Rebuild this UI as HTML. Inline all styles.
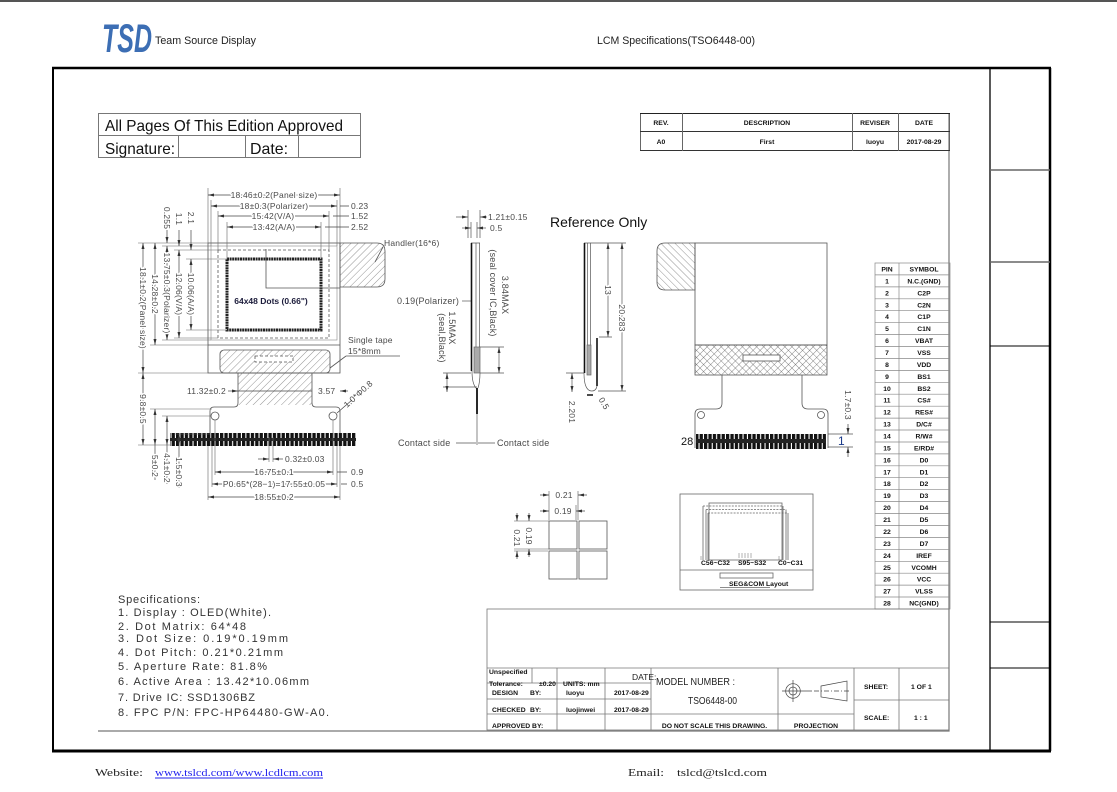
<!DOCTYPE html>
<html><head><meta charset="utf-8"><style>
html,body{margin:0;padding:0;background:#fff;}
svg{display:block}
.d{font-family:"Liberation Sans",sans-serif;font-size:8.5px;fill:#4a4a4a;letter-spacing:0.2px}
.k{paint-order:stroke;stroke:#fff;stroke-width:3px;stroke-linejoin:round}
.t{font-family:"Liberation Sans",sans-serif;font-weight:bold;font-size:6.8px;fill:#111}
.s{font-family:"Liberation Sans",sans-serif;font-size:11px;fill:#333}
</style></head><body>
<svg width="1117" height="792" viewBox="0 0 1117 792" xmlns="http://www.w3.org/2000/svg">
<defs>
<marker id="a" viewBox="0 0 10 10" refX="10" refY="5" markerWidth="6" markerHeight="6" markerUnits="userSpaceOnUse" orient="auto-start-reverse"><path d="M0,2.5L10,5L0,7.5z" fill="#333"/></marker>
<pattern id="h1" width="5" height="5" patternUnits="userSpaceOnUse" patternTransform="rotate(45)"><line x1="0" y1="0" x2="0" y2="5" stroke="#666" stroke-width="0.7"/></pattern>
<pattern id="h2" width="5" height="5" patternUnits="userSpaceOnUse" patternTransform="rotate(-45)"><line x1="0" y1="0" x2="0" y2="5" stroke="#666" stroke-width="0.7"/></pattern>
<pattern id="hx" width="5" height="5" patternUnits="userSpaceOnUse" patternTransform="rotate(45)"><line x1="0" y1="0" x2="0" y2="5" stroke="#555" stroke-width="0.7"/><line x1="0" y1="0" x2="5" y2="0" stroke="#555" stroke-width="0.7"/></pattern>
<pattern id="pins" width="4.4" height="20" patternUnits="userSpaceOnUse"><rect width="3.3" height="20" fill="#111"/></pattern>
</defs>

<!-- top line -->
<rect x="0" y="0" width="1117" height="2" fill="#555"/>

<!-- header -->
<text x="102" y="52" font-family="Liberation Sans, sans-serif" font-size="40" font-weight="bold" font-style="italic" fill="#3c6eb4" textLength="50" lengthAdjust="spacingAndGlyphs">TSD</text>
<text x="155" y="44" font-family="Liberation Sans, sans-serif" font-size="11" fill="#222" textLength="101" lengthAdjust="spacingAndGlyphs">Team Source Display</text>
<text x="597" y="44" font-family="Liberation Sans, sans-serif" font-size="11" fill="#222" textLength="158" lengthAdjust="spacingAndGlyphs">LCM Specifications(TSO6448-00)</text>

<!-- frame -->
<g stroke="#000" fill="none">
<line x1="52" y1="68" x2="1051" y2="68" stroke-width="2.5"/>
<line x1="53" y1="68" x2="53" y2="751" stroke-width="2"/>
<line x1="1050" y1="68" x2="1050" y2="751" stroke-width="2.5"/>
<line x1="52" y1="751" x2="1051" y2="751" stroke-width="3"/>
<line x1="990" y1="68" x2="990" y2="751" stroke-width="1.3"/>
<line x1="990" y1="170" x2="1050" y2="170" stroke="#666" stroke-width="1.5"/>
<line x1="990" y1="262" x2="1050" y2="262" stroke="#666" stroke-width="1.5"/>
<line x1="990" y1="346" x2="1050" y2="346" stroke-width="1"/>
<line x1="990" y1="622" x2="1050" y2="622" stroke-width="1"/>
<line x1="990" y1="668" x2="1050" y2="668" stroke-width="1"/>
</g>
<path d="M949,113V731H98" stroke="#777" stroke-width="1.2" fill="none"/>

<!-- approval box -->
<g stroke="#777" fill="none">
<rect x="98.5" y="113.5" width="262" height="44"/>
<line x1="98" y1="135.5" x2="360" y2="135.5"/>
<line x1="178.5" y1="135" x2="178.5" y2="157"/>
<line x1="245.5" y1="135" x2="245.5" y2="157"/>
<line x1="298.5" y1="135" x2="298.5" y2="157"/>
</g>
<text x="105" y="131" font-family="Liberation Sans, sans-serif" font-size="16" fill="#111" textLength="238" lengthAdjust="spacingAndGlyphs">All Pages Of This Edition Approved</text>
<text x="105" y="154" font-family="Liberation Sans, sans-serif" font-size="16" fill="#111" textLength="70" lengthAdjust="spacingAndGlyphs">Signature:</text>
<text x="250" y="154" font-family="Liberation Sans, sans-serif" font-size="16" fill="#111" textLength="38" lengthAdjust="spacingAndGlyphs">Date:</text>

<!-- rev table -->
<g stroke="#666" fill="none">
<rect x="640.5" y="113.5" width="309" height="37"/>
<line x1="640" y1="113.5" x2="950" y2="113.5" stroke="#222"/>
<line x1="640" y1="131.5" x2="950" y2="131.5" stroke="#333"/>
<line x1="640" y1="150.5" x2="950" y2="150.5" stroke="#333"/>
<line x1="682.5" y1="113" x2="682.5" y2="151"/>
<line x1="852.5" y1="113" x2="852.5" y2="151"/>
<line x1="898.5" y1="113" x2="898.5" y2="151"/>
</g>
<g class="t" text-anchor="middle">
<text x="661" y="125">REV.</text><text x="767" y="125">DESCRIPTION</text><text x="875" y="125">REVISER</text><text x="924" y="125">DATE</text>
<text x="661" y="144">A0</text><text x="767" y="144">First</text><text x="875" y="144">luoyu</text><text x="924" y="144">2017-08-29</text>
</g>

<!-- ================= LEFT FRONT VIEW ================= -->
<g stroke="#555" stroke-width="0.8" fill="none">
<rect x="208" y="243" width="132" height="130"/>
<line x1="208" y1="345" x2="340" y2="345"/>
<rect x="211" y="246" width="126" height="94" stroke="#888" stroke-width="0.6"/>
<rect x="218" y="250" width="111" height="88" stroke-dasharray="3,2"/>
<rect x="227" y="259" width="94" height="71" stroke="#222" stroke-width="3" stroke-dasharray="2,0.6"/>
<path d="M340,243H377Q385,243 385,251V279Q385,287 377,287H340Z" fill="url(#h1)"/>
<polyline points="266,249 266,288 340,288"/>
<line x1="383" y1="247" x2="375" y2="262"/>
<rect x="220" y="350" width="110" height="23" rx="4" fill="url(#h1)"/>
<rect x="255" y="356" width="38" height="6" stroke-dasharray="3,2" fill="#fff"/>
<rect x="238" y="373" width="74" height="32" fill="url(#h1)" stroke="none"/>
<path d="M238,373V403Q238,407 234,407H214Q210,407 210,411V446"/>
<path d="M312,373V403Q312,407 316,407H336Q340,407 340,411V446"/>
<circle cx="215" cy="416" r="4"/>
<circle cx="333" cy="416" r="4"/>
<line x1="346" y1="356" x2="330" y2="368"/>
<line x1="346" y1="356" x2="400" y2="356"/>
</g>
<rect x="170" y="433" width="186" height="13" fill="url(#pins)"/>
<rect x="170" y="438" width="186" height="3" fill="#222"/>
<text x="271" y="304" text-anchor="middle" font-family="Liberation Sans, sans-serif" font-size="8.5" font-weight="bold" fill="#1b1b3a">64x48 Dots (0.66")</text>
<text class="d" x="384" y="246" font-size="9">Handler(16*6)</text>
<text class="d" x="348" y="343" font-size="9">Single tape</text>
<text class="d" x="348" y="354" font-size="9">15*8mm</text>

<!-- left view extension lines -->
<path stroke="#666" stroke-width="0.6" fill="none" d="M208,188V243M340,188V243M211,200V246M337,200V246M218,211V250M329,211V250M227,222V259M321,222V259M138,243H208M162,246H211M174,250H218M186,259H227M186,330H227M174,338H218M162,340H211M150,345H208M138,373H208M138,445H170M150,409H212M162,416H211M174,434H210M208,446V500M340,446V500M212,446V487M337,446V487M215,420V475M333,420V475M269,437V462M273,437V462"/>
<!-- dimension lines -->
<g stroke="#444" stroke-width="0.7" fill="none">
<line x1="208" y1="195" x2="340" y2="195" marker-start="url(#a)" marker-end="url(#a)"/>
<line x1="211" y1="206" x2="337" y2="206" marker-start="url(#a)" marker-end="url(#a)"/>
<line x1="218" y1="216" x2="329" y2="216" marker-start="url(#a)" marker-end="url(#a)"/>
<line x1="227" y1="227" x2="321" y2="227" marker-start="url(#a)" marker-end="url(#a)"/>
<path d="M340,206H349M333,216H349M325,227H349"/>
<line x1="143" y1="243" x2="143" y2="373" marker-start="url(#a)" marker-end="url(#a)"/>
<line x1="155" y1="243" x2="155" y2="345" marker-start="url(#a)" marker-end="url(#a)"/>
<line x1="167" y1="246" x2="167" y2="340" marker-start="url(#a)" marker-end="url(#a)"/>
<line x1="179" y1="250" x2="179" y2="338" marker-start="url(#a)" marker-end="url(#a)"/>
<line x1="191" y1="259" x2="191" y2="330" marker-start="url(#a)" marker-end="url(#a)"/>
<line x1="167" y1="230" x2="167" y2="243" marker-end="url(#a)"/>
<line x1="179" y1="230" x2="179" y2="246" marker-end="url(#a)"/>
<line x1="191" y1="230" x2="191" y2="250" marker-end="url(#a)"/>
<line x1="143" y1="373" x2="143" y2="445" marker-start="url(#a)" marker-end="url(#a)"/>
<line x1="155" y1="409" x2="155" y2="445" marker-start="url(#a)" marker-end="url(#a)"/>
<line x1="155" y1="445" x2="155" y2="480"/>
<line x1="167" y1="416" x2="167" y2="445" marker-start="url(#a)" marker-end="url(#a)"/>
<line x1="167" y1="445" x2="167" y2="484"/>
<line x1="179" y1="434" x2="179" y2="445" marker-start="url(#a)" marker-end="url(#a)"/>
<line x1="179" y1="445" x2="179" y2="488"/>
<line x1="228" y1="391" x2="238" y2="391" marker-end="url(#a)"/>
<line x1="238" y1="391" x2="312" y2="391"/>
<line x1="348" y1="391" x2="340" y2="391" marker-end="url(#a)"/>
<line x1="337" y1="413" x2="352" y2="400"/>
<line x1="258" y1="459" x2="269" y2="459" marker-end="url(#a)"/>
<line x1="283" y1="459" x2="273" y2="459" marker-end="url(#a)"/>
<line x1="215" y1="472" x2="333" y2="472" marker-start="url(#a)" marker-end="url(#a)"/>
<line x1="212" y1="484" x2="337" y2="484" marker-start="url(#a)" marker-end="url(#a)"/>
<line x1="208" y1="497" x2="340" y2="497" marker-start="url(#a)" marker-end="url(#a)"/>
<path d="M337,472H347M341,484H347"/>
</g>
<g class="d">
<text class="k" x="274" y="195" dy=".35em" text-anchor="middle">18.46±0.2(Panel size)</text>
<text class="k" x="274" y="206" dy=".35em" text-anchor="middle">18±0.3(Polarizer)</text>
<text class="k" x="273" y="216" dy=".35em" text-anchor="middle">15.42(V/A)</text>
<text class="k" x="274" y="227" dy=".35em" text-anchor="middle">13.42(A/A)</text>
<text x="351" y="206" dy=".35em">0.23</text>
<text x="351" y="216" dy=".35em">1.52</text>
<text x="351" y="227" dy=".35em">2.52</text>
<text class="k" transform="translate(143,308) rotate(90)" dy=".35em" text-anchor="middle">18.1±0.2(Panel size)</text>
<text class="k" transform="translate(155,294) rotate(90)" dy=".35em" text-anchor="middle">14.28±0.2</text>
<text class="k" transform="translate(167,293) rotate(90)" dy=".35em" text-anchor="middle">13.75±0.3(Polarizer)</text>
<text class="k" transform="translate(179,294) rotate(90)" dy=".35em" text-anchor="middle">12.06(V/A)</text>
<text class="k" transform="translate(191,294) rotate(90)" dy=".35em" text-anchor="middle">10.06(A/A)</text>
<text transform="translate(167,218) rotate(90)" dy=".35em" text-anchor="middle">0.255</text>
<text transform="translate(179,219) rotate(90)" dy=".35em" text-anchor="middle">1.1</text>
<text transform="translate(191,218) rotate(90)" dy=".35em" text-anchor="middle">2.1</text>
<text class="k" transform="translate(143,409) rotate(90)" dy=".35em" text-anchor="middle">9.8±0.5</text>
<text class="k" transform="translate(155,466) rotate(90)" dy=".35em" text-anchor="middle">5±0.2</text>
<text class="k" transform="translate(167,468) rotate(90)" dy=".35em" text-anchor="middle">4.1±0.2</text>
<text class="k" transform="translate(179,472) rotate(90)" dy=".35em" text-anchor="middle">1.5±0.3</text>
<text x="187" y="391" dy=".35em">11.32±0.2</text>
<text x="318" y="391" dy=".35em">3.57</text>
<text transform="translate(347,408) rotate(-42)">1.0*Φ0.8</text>
<text x="285" y="459" dy=".35em">0.32±0.03</text>
<text class="k" x="274" y="472" dy=".35em" text-anchor="middle">16.75±0.1</text>
<text class="k" x="274" y="484" dy=".35em" text-anchor="middle">P0.65*(28−1)=17.55±0.05</text>
<text class="k" x="274" y="497" dy=".35em" text-anchor="middle">18.55±0.2</text>
<text x="351" y="472" dy=".35em">0.9</text>
<text x="351" y="484" dy=".35em">0.5</text>
</g>

<!-- ================= MIDDLE SIDE VIEW ================= -->
<g stroke="#555" stroke-width="0.7" fill="none">
<path d="M468,210V238M480,210V238M471,222V238M477,222V238"/>
<line x1="456" y1="217" x2="468" y2="217" marker-end="url(#a)"/>
<line x1="487" y1="217" x2="480" y2="217" marker-end="url(#a)"/>
<line x1="462" y1="228" x2="471" y2="228" marker-end="url(#a)"/>
<line x1="486" y1="228" x2="477" y2="228" marker-end="url(#a)"/>
<rect x="474" y="347" width="6" height="26" fill="#aaa" stroke="#666"/>
<path d="M471,243H480M476,243V347M479.5,243V347"/>
<path d="M472,371Q472,385 477,389M480,373Q480,382 478,388"/>
<line x1="477" y1="388" x2="477" y2="445"/>
<line x1="462" y1="301" x2="471" y2="301"/>
<path d="M480,347H504M480,373H504M443,373H471M443,387H477"/>
<line x1="499" y1="347" x2="499" y2="373" marker-start="url(#a)" marker-end="url(#a)"/>
<line x1="447" y1="373" x2="447" y2="392" marker-start="url(#a)" marker-end="url(#a)"/>
<line x1="456" y1="443" x2="476" y2="443"/>
<line x1="478" y1="443" x2="495" y2="443"/>
</g>
<line x1="471.5" y1="243" x2="471.5" y2="371" stroke="#111" stroke-width="1.6"/>
<line x1="477" y1="388" x2="477" y2="414" stroke="#111" stroke-width="1.8"/>
<g class="d">
<text x="488" y="217" dy=".35em">1.21±0.15</text>
<text x="490" y="228" dy=".35em">0.5</text>
<text x="397" y="301" dy=".35em" font-size="9">0.19(Polarizer)</text>
<text transform="translate(493,293) rotate(90)" dy=".35em" text-anchor="middle" font-size="9">(seal cover IC,Black)</text>
<text transform="translate(505,295) rotate(90)" dy=".35em" text-anchor="middle" font-size="9">3.84MAX</text>
<text transform="translate(452,328) rotate(90)" dy=".35em" text-anchor="middle" font-size="9">1.5MAX</text>
<text transform="translate(442,338) rotate(90)" dy=".35em" text-anchor="middle" font-size="9">(seal,Black)</text>
<text x="398" y="443" dy=".35em" font-size="9">Contact side</text>
<text x="497" y="443" dy=".35em" font-size="9">Contact side</text>
</g>
<text x="550" y="227" font-family="Liberation Sans, sans-serif" font-size="14" fill="#111">Reference Only</text>

<!-- right side profile -->
<g stroke="#555" stroke-width="0.7" fill="none">
<path d="M584,243H591M587.5,243V345M590.5,243V345"/>
<rect x="587" y="345" width="4" height="30" fill="#aaa" stroke="#666"/>
<path d="M584,373Q584,391 592,391Q596,391 597,386"/>
<path d="M591,243H626M599,337H612M598,391H626M566,373H584"/>
<line x1="608" y1="243" x2="608" y2="337" marker-start="url(#a)" marker-end="url(#a)"/>
<line x1="622" y1="243" x2="622" y2="391" marker-start="url(#a)" marker-end="url(#a)"/>
<line x1="572" y1="373" x2="572" y2="392" marker-start="url(#a)" marker-end="url(#a)"/>
</g>
<line x1="584.5" y1="243" x2="584.5" y2="373" stroke="#111" stroke-width="1.6"/>
<line x1="597" y1="338" x2="597" y2="386" stroke="#111" stroke-width="1.6"/>
<line x1="587" y1="395" x2="593" y2="395" stroke="#111" stroke-width="1.5"/>
<g class="d">
<text class="k" transform="translate(608,290) rotate(90)" dy=".35em" text-anchor="middle">13</text>
<text class="k" transform="translate(622,318) rotate(90)" dy=".35em" text-anchor="middle">20.283</text>
<text transform="translate(572,412) rotate(90)" dy=".35em" text-anchor="middle">2.201</text>
<text transform="translate(601,398) rotate(60)" dy=".35em">0.5</text>
</g>

<!-- ================= RIGHT BACK VIEW ================= -->
<g stroke="#555" stroke-width="0.8" fill="none">
<path d="M695,243H665Q657,243 657,251V282Q657,290 665,290H695Z" fill="url(#h2)"/>
<rect x="695" y="243" width="132" height="102"/>
<rect x="695" y="345" width="132" height="30" fill="url(#hx)"/>
<rect x="743" y="355" width="37" height="6" fill="#fff"/>
<path d="M722,375V403Q722,409 716,409H700Q695,409 695,414V448"/>
<path d="M802,375V403Q802,409 808,409H823Q828,409 828,414V448"/>
<circle cx="701" cy="415" r="3.5"/>
<circle cx="821" cy="415" r="3.5"/>
<path d="M828,434H853M828,447H853"/>
<line x1="848" y1="424" x2="848" y2="434" marker-end="url(#a)"/>
<line x1="848" y1="457" x2="848" y2="447" marker-end="url(#a)"/>
</g>
<rect x="696" y="434" width="130" height="15" fill="url(#pins)"/>
<rect x="696" y="439" width="130" height="4" fill="#222"/>
<text x="681" y="445" font-family="Liberation Sans, sans-serif" font-size="11" fill="#111">28</text>
<text x="838" y="445" font-family="Liberation Sans, sans-serif" font-size="12" fill="#1a3a8a">1</text>
<text class="d" transform="translate(848,405) rotate(90)" dy=".35em" text-anchor="middle">1.7±0.3</text>

<!-- ================= PIN TABLE ================= -->
<g stroke="#888" stroke-width="0.7" fill="none">
<rect x="875" y="263" width="75" height="346"/>
<line x1="899" y1="263" x2="899" y2="609"/>
<path d="M875,274.9H950M875,286.9H950M875,298.8H950M875,310.7H950M875,322.7H950M875,334.6H950M875,346.5H950M875,358.4H950M875,370.4H950M875,382.3H950M875,394.2H950M875,406.2H950M875,418.1H950M875,430H950M875,442H950M875,453.9H950M875,465.8H950M875,477.7H950M875,489.7H950M875,501.6H950M875,513.5H950M875,525.5H950M875,537.4H950M875,549.3H950M875,561.3H950M875,573.2H950M875,585.1H950M875,597H950"/>
</g>
<g class="t" font-size="6.5" text-anchor="middle">
<text x="887" y="271.5">PIN</text><text x="924" y="271.5">SYMBOL</text>
<text x="887" y="283.4">1</text><text x="924" y="283.4">N.C.(GND)</text>
<text x="887" y="295.4">2</text><text x="924" y="295.4">C2P</text>
<text x="887" y="307.3">3</text><text x="924" y="307.3">C2N</text>
<text x="887" y="319.2">4</text><text x="924" y="319.2">C1P</text>
<text x="887" y="331.2">5</text><text x="924" y="331.2">C1N</text>
<text x="887" y="343.1">6</text><text x="924" y="343.1">VBAT</text>
<text x="887" y="355">7</text><text x="924" y="355">VSS</text>
<text x="887" y="366.9">8</text><text x="924" y="366.9">VDD</text>
<text x="887" y="378.9">9</text><text x="924" y="378.9">BS1</text>
<text x="887" y="390.8">10</text><text x="924" y="390.8">BS2</text>
<text x="887" y="402.7">11</text><text x="924" y="402.7">CS#</text>
<text x="887" y="414.7">12</text><text x="924" y="414.7">RES#</text>
<text x="887" y="426.6">13</text><text x="924" y="426.6">D/C#</text>
<text x="887" y="438.5">14</text><text x="924" y="438.5">R/W#</text>
<text x="887" y="450.5">15</text><text x="924" y="450.5">E/RD#</text>
<text x="887" y="462.4">16</text><text x="924" y="462.4">D0</text>
<text x="887" y="474.3">17</text><text x="924" y="474.3">D1</text>
<text x="887" y="486.2">18</text><text x="924" y="486.2">D2</text>
<text x="887" y="498.2">19</text><text x="924" y="498.2">D3</text>
<text x="887" y="510.1">20</text><text x="924" y="510.1">D4</text>
<text x="887" y="522">21</text><text x="924" y="522">D5</text>
<text x="887" y="534">22</text><text x="924" y="534">D6</text>
<text x="887" y="545.9">23</text><text x="924" y="545.9">D7</text>
<text x="887" y="557.8">24</text><text x="924" y="557.8">IREF</text>
<text x="887" y="569.8">25</text><text x="924" y="569.8">VCOMH</text>
<text x="887" y="581.7">26</text><text x="924" y="581.7">VCC</text>
<text x="887" y="593.6">27</text><text x="924" y="593.6">VLSS</text>
<text x="887" y="605.5">28</text><text x="924" y="605.5">NC(GND)</text>
</g>

<!-- ================= DOT DETAIL ================= -->
<g stroke="#555" stroke-width="0.8" fill="none">
<rect x="549" y="521" width="28" height="28"/>
<rect x="579" y="521" width="28" height="28"/>
<rect x="549" y="551" width="28" height="28"/>
<rect x="579" y="551" width="28" height="28"/>
<path stroke-width="0.6" d="M549,491V520M578,491V520M576,505V520M514,521H549M514,549H549M514,551H548"/>
<line x1="540" y1="495" x2="549" y2="495" marker-end="url(#a)"/>
<line x1="587" y1="495" x2="578" y2="495" marker-end="url(#a)"/>
<line x1="540" y1="511" x2="549" y2="511" marker-end="url(#a)"/>
<line x1="585" y1="511" x2="576" y2="511" marker-end="url(#a)"/>
<line x1="529" y1="513" x2="529" y2="521" marker-end="url(#a)"/>
<line x1="529" y1="557" x2="529" y2="549" marker-end="url(#a)"/>
<line x1="517" y1="513" x2="517" y2="521" marker-end="url(#a)"/>
<line x1="517" y1="559" x2="517" y2="551" marker-end="url(#a)"/>
</g>
<g class="d">
<text class="k" x="564" y="495" dy=".35em" text-anchor="middle">0.21</text>
<text class="k" x="563" y="511" dy=".35em" text-anchor="middle">0.19</text>
<text class="k" transform="translate(529,536) rotate(90)" dy=".35em" text-anchor="middle">0.19</text>
<text class="k" transform="translate(517,538) rotate(90)" dy=".35em" text-anchor="middle">0.21</text>
</g>

<!-- SEG/COM layout -->
<g stroke="#666" stroke-width="0.8" fill="none">
<rect x="680" y="494" width="133" height="96"/>
<line x1="680" y1="570" x2="813" y2="570"/>
<rect x="709" y="503" width="73" height="57"/>
<rect x="720" y="573" width="53" height="5"/>
<path stroke-dasharray="2,1.2" d="M703,506H783M706,509.5H786M708,513H788"/>
<path d="M703,506V560M706,509.5V560M708,513V560M783,506V560M786,509.5V560M788,513V560"/>
<path stroke-width="0.5" d="M739,553V558M742,553V558M745,553V558M748,553V558M751,553V558M701,556V560M779,556V560"/>
<line x1="720" y1="587.5" x2="770" y2="587.5"/>
</g>
<g class="t" font-size="4.5">
<text x="701" y="565">C56~C32</text>
<text x="738" y="565">S95~S32</text>
<text x="778" y="565">C0~C31</text>
<text x="729" y="586">SEG&amp;COM Layout</text>
</g>

<!-- ================= SPECIFICATIONS ================= -->
<g class="s">
<text x="118" y="603" textLength="82" lengthAdjust="spacing">Specifications:</text>
<text x="118" y="616" textLength="153" lengthAdjust="spacing">1. Display :  OLED(White).</text>
<text x="118" y="630" textLength="128" lengthAdjust="spacing">2. Dot Matrix:  64*48</text>
<text x="118" y="642" textLength="170" lengthAdjust="spacing">3. Dot Size:  0.19*0.19mm</text>
<text x="118" y="656" textLength="165" lengthAdjust="spacing">4. Dot Pitch:  0.21*0.21mm</text>
<text x="118" y="670" textLength="149" lengthAdjust="spacing">5. Aperture Rate:  81.8%</text>
<text x="118" y="685" textLength="191" lengthAdjust="spacing">6. Active Area : 13.42*10.06mm</text>
<text x="118" y="701" textLength="137" lengthAdjust="spacing">7. Drive IC: SSD1306BZ</text>
<text x="118" y="716" textLength="211" lengthAdjust="spacing">8. FPC P/N: FPC-HP64480-GW-A0.</text>
</g>

<!-- ================= TITLE BLOCK ================= -->
<g stroke="#777" stroke-width="0.8" fill="none">
<rect x="487" y="609" width="462" height="121"/>
<line x1="487" y1="668" x2="949" y2="668"/>
<line x1="532" y1="668" x2="532" y2="683"/>
<line x1="557" y1="668" x2="557" y2="730"/>
<line x1="605" y1="668" x2="605" y2="730"/>
<line x1="651" y1="668" x2="651" y2="730"/>
<line x1="778" y1="668" x2="778" y2="730"/>
<line x1="854" y1="668" x2="854" y2="730"/>
<line x1="899" y1="668" x2="899" y2="730"/>
<line x1="487" y1="683" x2="651" y2="683"/>
<line x1="487" y1="699" x2="651" y2="699"/>
<line x1="487" y1="714" x2="854" y2="714"/>
<line x1="854" y1="700" x2="949" y2="700"/>
</g>
<g stroke="#444" stroke-width="0.7" fill="none">
<circle cx="793" cy="691" r="7.3"/>
<circle cx="793" cy="691" r="4"/>
<line x1="793" y1="680" x2="793" y2="702"/>
<path d="M782,691H812" />
<path d="M814,691H850" stroke-dasharray="5,2,1,2"/>
<path d="M821,686L847,681V701L821,697Z"/>
</g>
<g class="t" font-size="6.5">
<text x="489" y="674">Unspecified</text>
<text x="489" y="686">Tolerance:</text>
<text x="539" y="686">±0.20</text>
<text x="563" y="686">UNITS: mm</text>
<text x="492" y="695">DESIGN</text><text x="530" y="695">BY:</text><text x="566" y="695">luoyu</text><text x="614" y="695">2017-08-29</text>
<text x="492" y="712">CHECKED</text><text x="530" y="712">BY:</text><text x="566" y="712">luojinwei</text><text x="614" y="712">2017-08-29</text>
<text x="492" y="728">APPROVED BY:</text>
<text x="714.5" y="728" text-anchor="middle">DO NOT SCALE THIS DRAWING.</text>
<text x="816" y="728" text-anchor="middle">PROJECTION</text>
<text x="864" y="689">SHEET:</text><text x="911" y="689">1 OF 1</text>
<text x="864" y="720">SCALE:</text><text x="914" y="720">1 : 1</text>
</g>
<text x="632" y="680" font-family="Liberation Sans, sans-serif" font-size="8.5" fill="#222">DATE:</text>
<text x="656" y="685" font-family="Liberation Sans, sans-serif" font-size="10" fill="#222" textLength="79" lengthAdjust="spacingAndGlyphs">MODEL NUMBER :</text>
<text x="688" y="704" font-family="Liberation Sans, sans-serif" font-size="10" fill="#222" textLength="49" lengthAdjust="spacingAndGlyphs">TSO6448-00</text>

<!-- ================= FOOTER ================= -->
<text x="95" y="776" font-family="Liberation Serif, serif" font-size="11" fill="#222" textLength="48" lengthAdjust="spacingAndGlyphs">Website:</text>
<text x="155" y="776" font-family="Liberation Serif, serif" font-size="11" fill="#2222ee" textLength="168" lengthAdjust="spacingAndGlyphs">www.tslcd.com/www.lcdlcm.com</text>
<line x1="155" y1="778" x2="323" y2="778" stroke="#2222ee" stroke-width="0.9"/>
<text x="628" y="776" font-family="Liberation Serif, serif" font-size="11" fill="#222" textLength="36" lengthAdjust="spacingAndGlyphs">Email:</text>
<text x="677" y="776" font-family="Liberation Serif, serif" font-size="11" fill="#222" textLength="90" lengthAdjust="spacingAndGlyphs">tslcd@tslcd.com</text>
</svg>
</body></html>
